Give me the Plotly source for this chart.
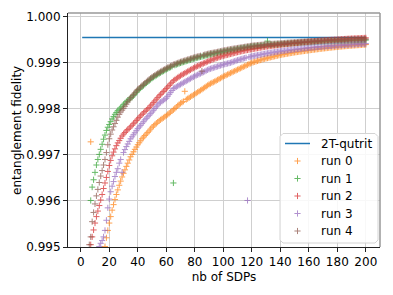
import plotly.graph_objects as go

N = None
# nb of SDPs (x = 1..200)
nb_sdps = list(range(1, 201))

# 2T-qutrit reference fidelity
qutrit_fidelity = 0.99955

# entanglement-fidelity deficits (1 - F) in parts per million, x = 1..200 ; None = below 0.995
run0_ppm = [N, N, N, N, N, N, 2717, N, N, N,
            N, N, N, N, N, N, 4990, 4800, 4640, 4480,
            4340, 4200, 4080, 3970, 3860, 3760, 3660, 3570, 3480, 3400,
            3325, 3250, 3180, 3110, 3040, 2987, 2933, 2880, 2830, 2780,
            2737, 2693, 2650, 2615, 2580, 2547, 2513, 2480, 2440, 2400,
            2372, 2344, 2316, 2288, 2260, 2238, 2216, 2194, 2172, 2150,
            2124, 2098, 2072, 2046, 2020, 1992, 1964, 1936, 1908, 1880,
            1860, 1840, 1620, 1800, 1780, 1760, 1740, 1720, 1700, 1680,
            1660, 1640, 1620, 1600, 1580, 1558, 1536, 1514, 1492, 1470,
            1454, 1438, 1422, 1406, 1390, 1372, 1354, 1336, 1318, 1300,
            1285, 1270, 1255, 1240, 1225, 1210, 1195, 1180, 1165, 1150,
            1135, 1120, 1105, 1090, 1075, 1060, 1045, 1030, 1015, 1000,
            990, 980, 970, 960, 950, 941, 932, 923, 914, 905,
            898, 890, 883, 875, 868, 860, 853, 845, 838, 830,
            824, 819, 813, 808, 802, 797, 791, 786, 780, 775,
            771, 766, 762, 757, 753, 748, 744, 739, 735, 730,
            726, 722, 718, 714, 710, 706, 702, 698, 694, 690,
            687, 683, 680, 676, 673, 669, 666, 662, 659, 655,
            652, 650, 647, 644, 641, 639, 636, 633, 631, 628,
            626, 624, 621, 619, 617, 615, 612, 610, 608, 605]

run1_ppm = [N, N, N, N, N, N, 3990, 3700, 3540, 3380,
            3220, 3100, 2990, 2880, 2770, 2660, 2570, 2470, 2400, 2340,
            2280, 2220, 2170, 2120, 2080, 2040, 2010, 1980, 1945, 1910,
            1875, 1845, 1815, 1790, 1770, 1749, 1713, 1677, 1641, 1605,
            1577, 1549, 1521, 1493, 1465, 1439, 1413, 1387, 1361, 1335,
            1315, 1295, 1275, 1255, 1235, 1217, 1199, 1181, 1163, 1145,
            1129, 1113, 1097, 1081, 3610, 1053, 1041, 1029, 1017, 1005,
            995, 985, 975, 965, 955, 945, 935, 925, 915, 905,
            897, 889, 881, 873, 865, 857, 849, 841, 833, 825,
            819, 813, 807, 801, 795, 788, 781, 774, 767, 760,
            754, 748, 742, 736, 730, 725, 720, 715, 710, 705,
            695, 690, 685, 680, 675, 670, 665, 660, 655, 650,
            647, 644, 641, 638, 635, 632, 629, 626, 623, 620,
            530, 616, 613, 611, 609, 607, 605, 602, 600, 598,
            596, 593, 591, 589, 586, 584, 582, 580, 577, 575,
            573, 571, 569, 567, 565, 563, 561, 559, 557, 555,
            554, 552, 551, 549, 548, 546, 545, 543, 542, 540,
            539, 538, 536, 535, 534, 533, 532, 530, 529, 528,
            527, 526, 525, 524, 522, 521, 520, 519, 518, 517,
            516, 515, 514, 513, 512, 511, 510, 509, 508, 507]

run2_ppm = [N, N, N, N, N, N, 4950, 4780, 4630, 4480,
            4340, 4220, 4100, 3980, 3860, 3730, 3610, 3490, 3360, 3230,
            3120, 3020, 2940, 2870, 2800, 2740, 2690, 2640, 2590, 2550,
            2515, 2480, 2450, 2420, 2390, 2357, 2323, 2290, 2255, 2220,
            2187, 2153, 2120, 2090, 2060, 2030, 2000, 1970, 1935, 1900,
            1864, 1828, 1792, 1756, 1720, 1688, 1656, 1624, 1592, 1560,
            1526, 1492, 1458, 1424, 1390, 1368, 1346, 1324, 1302, 1280,
            1262, 1244, 1226, 1208, 1190, 1172, 1154, 1136, 1118, 1100,
            1086, 1072, 1058, 1044, 1030, 1016, 1002, 988, 974, 960,
            948, 936, 924, 912, 900, 890, 880, 870, 860, 850,
            842, 834, 826, 818, 810, 802, 794, 786, 778, 770,
            763, 756, 749, 742, 735, 729, 723, 717, 711, 705,
            700, 694, 689, 683, 678, 672, 667, 661, 656, 650,
            646, 642, 638, 634, 630, 626, 622, 618, 614, 610,
            607, 603, 600, 596, 593, 589, 586, 582, 579, 575,
            572, 569, 566, 563, 560, 557, 554, 551, 548, 545,
            542, 539, 536, 533, 530, 527, 524, 521, 518, 515,
            513, 511, 509, 507, 505, 503, 501, 499, 497, 495,
            493, 491, 489, 487, 485, 483, 481, 479, 477, 475,
            474, 472, 471, 469, 468, 466, 465, 463, 462, 460]

run3_ppm = [N, N, N, N, N, N, N, N, N, N,
            N, N, 4990, 4920, 4860, 4780, 4640, 4420, 4150, 3960,
            3800, 3680, 3580, 3470, 3380, 3300, 3180, 3100, 3378, 2950,
            2885, 2820, 2763, 2707, 2650, 2607, 2563, 2520, 2475, 2430,
            2395, 2360, 2320, 2280, 2240, 2207, 2173, 2140, 2105, 2070,
            2032, 1994, 1956, 1918, 1880, 1858, 1836, 1814, 1792, 1770,
            1728, 1686, 1644, 1602, 1560, 1542, 1524, 1506, 1488, 1470,
            1452, 1434, 1416, 1398, 1380, 1362, 1344, 1326, 1308, 1290,
            1276, 1262, 1248, 1234, 1220, 1204, 1188, 1172, 1156, 1140,
            1130, 1120, 1110, 1100, 1090, 1080, 1070, 1060, 1050, 1040,
            1032, 1024, 1016, 1008, 1000, 989, 978, 967, 956, 945,
            936, 927, 918, 909, 900, 892, 3990, 876, 868, 860,
            854, 848, 842, 836, 830, 824, 818, 812, 806, 800,
            795, 790, 785, 780, 775, 770, 765, 760, 755, 750,
            746, 742, 738, 734, 730, 726, 722, 718, 714, 710,
            707, 703, 700, 696, 693, 689, 686, 682, 679, 675,
            672, 670, 667, 664, 662, 659, 656, 653, 651, 648,
            646, 643, 641, 638, 636, 634, 631, 629, 626, 624,
            622, 620, 618, 616, 614, 611, 609, 607, 605, 603,
            601, 599, 597, 595, 594, 592, 590, 588, 587, 585]

run4_ppm = [N, N, N, N, N, 4950, 4780, 4450, 4250, 4065,
            3890, 3750, 3600, 3460, 3340, 3220, 3100, 2950, 2780, 2650,
            2550, 2460, 2390, 2320, 2250, 2180, 2120, 2070, 2030, 1990,
            1944, 1898, 1852, 1806, 1760, 1724, 1688, 1652, 1616, 1580,
            1552, 1524, 1496, 1468, 1440, 1414, 1388, 1362, 1336, 1310,
            1290, 1270, 1250, 1230, 1210, 1192, 1174, 1156, 1138, 1120,
            1104, 1088, 1072, 1056, 1040, 1028, 1016, 1004, 992, 980,
            970, 960, 950, 940, 930, 920, 910, 900, 890, 880,
            872, 864, 856, 848, 1182, 832, 824, 816, 808, 800,
            794, 788, 782, 776, 770, 763, 756, 749, 742, 735,
            729, 723, 717, 711, 705, 700, 695, 690, 685, 680,
            675, 670, 665, 660, 655, 650, 645, 640, 635, 630,
            627, 624, 621, 618, 615, 612, 609, 606, 603, 600,
            598, 596, 593, 591, 589, 587, 585, 582, 580, 578,
            576, 573, 571, 569, 566, 564, 562, 560, 557, 555,
            553, 551, 549, 547, 545, 543, 541, 539, 537, 535,
            534, 532, 531, 529, 528, 526, 525, 523, 522, 520,
            519, 518, 516, 515, 514, 513, 512, 510, 509, 508,
            507, 506, 505, 504, 502, 501, 500, 499, 498, 497,
            496, 495, 494, 493, 492, 491, 490, 489, 488, 487]

run_names = ["run 0", "run 1", "run 2", "run 3", "run 4"]
run_colors = ["#ff7f0e", "#2ca02c", "#d62728", "#9467bd", "#8c564b"]
runs = [run0_ppm, run1_ppm, run2_ppm, run3_ppm, run4_ppm]
line_name = "2T-qutrit"
line_color = "#1f77b4"

x_ticks = list(range(0, 201, 20))
y_ticks = [0.995, 0.996, 0.997, 0.998, 0.999, 1.000]
x_title = "nb of SDPs"
y_title = "entanglement fidelity"

FONT = "DejaVu Sans"
W, H = 393, 295
ML, MR, MT, MB = 68, 13, 13, 48

fig = go.Figure()
fig.add_trace(go.Scatter(
    x=[nb_sdps[0], nb_sdps[-1]], y=[qutrit_fidelity, qutrit_fidelity],
    mode="lines", name=line_name, line=dict(color=line_color, width=1.5),
    showlegend=False))

MARKER = dict(symbol="cross-thin", size=4.4)
for name, color, ppm in zip(run_names, run_colors, runs):
    y = [None if d is None else 1 - d * 1e-6 for d in ppm]
    fig.add_trace(go.Scatter(
        x=nb_sdps, y=y, mode="markers", name=name, showlegend=False,
        marker=dict(**MARKER, color=color, line=dict(color=color, width=1)),
        opacity=0.72))

# ---- legend drawn on an overlay axis measured in pixels of the plot area ----
px0, px1 = ML, W - MR
py0, py1 = H - MB, MT
bx0, bx1, by0, by1 = 280, 378, 133.5, 243
r = 3
box_x = [bx0 + r, bx1 - r, bx1, bx1, bx1 - r, bx0 + r, bx0, bx0, bx0 + r]
box_y = [by0, by0, by0 + r, by1 - r, by1, by1, by1 - r, by0 + r, by0]
fig.add_trace(go.Scatter(x=box_x, y=box_y, xaxis="x2", yaxis="y2",
                         mode="lines", fill="toself",
                         fillcolor="rgba(255,255,255,0.85)",
                         line=dict(color="#d4d4d4", width=1),
                         hoverinfo="skip", showlegend=False))
row_y = [143.5, 161, 178.5, 196, 213.5, 231]
fig.add_trace(go.Scatter(x=[285, 310], y=[row_y[0], row_y[0]], xaxis="x2",
                         yaxis="y2", mode="lines",
                         line=dict(color=line_color, width=1.5),
                         hoverinfo="skip", showlegend=False))
fig.add_trace(go.Scatter(x=[297.5] * 5, y=row_y[1:], xaxis="x2", yaxis="y2",
                         mode="markers",
                         marker=dict(**MARKER, color=run_colors,
                                     line=dict(color=run_colors, width=1)),
                         opacity=0.72, hoverinfo="skip", showlegend=False))
annotations = []
for yy, label in zip(row_y, [line_name] + run_names):
    annotations.append(dict(x=319, y=yy, xref="x2", yref="y2", text=label,
                            showarrow=False, xanchor="left", yanchor="middle",
                            font=dict(family=FONT, size=12, color="black")))
# y-axis title (paper coordinates, placed in the left margin)
annotations.append(dict(x=(17 - ML) / (W - ML - MR),
                        y=(py0 - 131) / (py0 - py1),
                        xref="paper", yref="paper",
                        text=y_title, textangle=-90, showarrow=False,
                        xanchor="center", yanchor="middle",
                        font=dict(family=FONT, size=12, color="black")))

fig.update_layout(
    width=W, height=H,
    margin=dict(l=ML, r=MR, t=MT, b=MB, autoexpand=False),
    paper_bgcolor="white", plot_bgcolor="white",
    font=dict(family=FONT, size=12, color="black"),
    showlegend=False,
    annotations=annotations,
    xaxis=dict(range=[-8.95, 209.95], tickvals=x_ticks, ticks="outside",
               ticklen=4, tickcolor="#222", showline=True, linecolor="#222",
               linewidth=1, showgrid=True, gridcolor="#cfcfcf", gridwidth=1,
               zeroline=False, automargin=False,
               title=dict(text=x_title, standoff=4, font=dict(size=12))),
    yaxis=dict(range=[0.995, 1.00008], tickvals=y_ticks, tickformat=".3f",
               ticks="outside", ticklen=4, tickcolor="#222", showline=True,
               linecolor="#222", linewidth=1, showgrid=True,
               gridcolor="#cfcfcf", gridwidth=1, zeroline=False,
               automargin=False),
    xaxis2=dict(overlaying="x", range=[px0, px1], visible=False,
                fixedrange=True),
    yaxis2=dict(overlaying="y", range=[py0, py1], visible=False,
                fixedrange=True),
    shapes=[
        dict(type="line", xref="paper", yref="paper", x0=0, x1=1, y0=1, y1=1,
             line=dict(color="#999999", width=1.5)),
        dict(type="line", xref="paper", yref="paper", x0=1, x1=1, y0=0, y1=1,
             line=dict(color="#999999", width=1.5)),
    ],
)

fig.write_html("out.html", config={"displayModeBar": False},
               post_script="document.body.style.margin='0';"
                           "document.body.style.overflow='hidden';")
